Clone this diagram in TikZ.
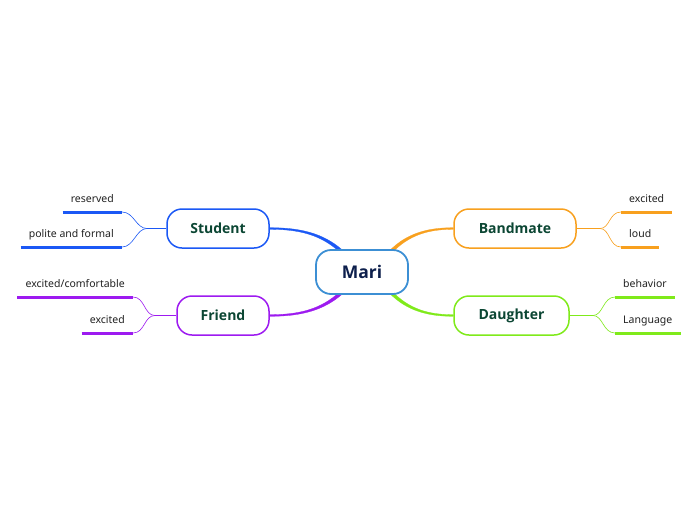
\documentclass[tikz,border=0pt]{standalone}
\usepackage{fontspec}
\setmainfont{Noto Sans}
\newfontfamily\headfont{Open Sans}
\begin{document}
\begin{tikzpicture}[x=1pt,y=-1pt,
  mainnode/.style={draw=mariblue, line width=1.8pt, fill=white, rounded corners=15pt,
    minimum width=92pt, minimum height=44pt, inner sep=0pt,
    font=\headfont\fontsize{17.5}{20}\selectfont\bfseries, text=marinavy},
  childnode/.style={line width=1.5pt, fill=white, rounded corners=15pt,
    minimum height=39pt, inner sep=0pt,
    font=\headfont\fontsize{14}{17}\selectfont\bfseries, text=childgreen},
  leafnode/.style={inner xsep=8pt, inner ysep=6pt, text height=8pt, text depth=3pt,
    font=\fontsize{10.5}{12}\selectfont, text=leaftext},
  mainlink/.style={line width=0.3pt, line join=round},
  leaflink/.style={line width=0.6pt},
  uline/.style={line width=3pt}
]
\definecolor{mariblue}{RGB}{60,143,212}
\definecolor{marinavy}{RGB}{13,31,76}
\definecolor{childgreen}{RGB}{11,70,51}
\definecolor{leaftext}{RGB}{34,34,34}
\definecolor{cblue}{RGB}{27,88,245}
\definecolor{cpurple}{RGB}{157,26,240}
\definecolor{corange}{RGB}{248,160,30}
\definecolor{cgreen}{RGB}{127,234,26}

\fill[white] (0,0) rectangle (696,520);
\useasboundingbox (0,0) rectangle (696,520);

% child nodes
\node[childnode, draw=cblue, minimum width=102pt] (student) at (218,228.5) {Student};
\node[childnode, draw=cpurple, minimum width=92pt] (friend) at (223,315.5) {Friend};
\node[childnode, draw=corange, minimum width=122pt] (bandmate) at (515,228.5) {Bandmate};
\node[childnode, draw=cgreen, minimum width=115pt] (daughter) at (511.5,315.5) {Daughter};

% invisible placeholder of the central node, for the connector anchors
\coordinate (maric) at (362,272);
\node[mainnode, draw=none, fill=none, text opacity=0] (mari) at (maric) {Mari};

% main connectors (tapered: thin at the child, thick at Mari)
\filldraw[mainlink, cblue] ([shift={(0,-0.8)}]student.east) .. controls (300,227.7) and (322.9,233) .. ([shift={(27.1,0.8)}]mari.north west)
  -- ([shift={(24.9,3.2)}]mari.north west) .. controls (321.1,235) and (300,229.3) .. ([shift={(0,0.8)}]student.east) -- cycle;
\filldraw[mainlink, cpurple] ([shift={(0,0.8)}]friend.east) .. controls (300,316.3) and (322.9,311) .. ([shift={(27.1,-0.8)}]mari.south west)
  -- ([shift={(24.9,-3.2)}]mari.south west) .. controls (321.1,309) and (300,314.7) .. ([shift={(0,-0.8)}]friend.east) -- cycle;
\filldraw[mainlink, corange] ([shift={(0,-0.8)}]bandmate.west) .. controls (428,227.7) and (407,233) .. ([shift={(-19.6,1.9)}]mari.north east)
  -- ([shift={(-17.4,4.1)}]mari.north east) .. controls (409,235) and (428,229.3) .. ([shift={(0,0.8)}]bandmate.west) -- cycle;
\filldraw[mainlink, cgreen] ([shift={(0,0.8)}]daughter.west) .. controls (428,316.3) and (407,311) .. ([shift={(-19.6,-1.9)}]mari.south east)
  -- ([shift={(-17.4,-4.1)}]mari.south east) .. controls (409,309) and (428,314.7) .. ([shift={(0,-0.8)}]daughter.west) -- cycle;

% central node, drawn over the connector ends
\node[mainnode] (marivis) at (maric) {Mari};

% leaves: Student
\node[leafnode, anchor=south east] (reserved) at (122,212) {reserved};
\node[leafnode, anchor=south east] (polite) at (122,247) {polite and formal};
\draw[uline, cblue] (reserved.south west) -- (reserved.south east);
\draw[uline, cblue] (polite.south west) -- (polite.south east);
\coordinate (sb) at (147,228.5);
\draw[leaflink, cblue] (student.west) -- (sb);
\draw[leaflink, cblue] (sb) .. controls (136,228.5) and (134,212) .. (reserved.south east);
\draw[leaflink, cblue] (sb) .. controls (136,228.5) and (134,247) .. (polite.south east);

% leaves: Friend
\node[leafnode, anchor=south east] (excomf) at (133,297) {excited/comfortable};
\node[leafnode, anchor=south east] (fexcited) at (133,333) {excited};
\draw[uline, cpurple] (excomf.south west) -- (excomf.south east);
\draw[uline, cpurple] (fexcited.south west) -- (fexcited.south east);
\coordinate (fb) at (155,315.5);
\draw[leaflink, cpurple] (friend.west) -- (fb);
\draw[leaflink, cpurple] (fb) .. controls (144,315.5) and (145,297) .. (excomf.south east);
\draw[leaflink, cpurple] (fb) .. controls (144,315.5) and (145,333) .. (fexcited.south east);

% leaves: Bandmate
\node[leafnode, anchor=south west] (bexcited) at (621,212) {excited};
\node[leafnode, anchor=south west] (loud) at (621,247) {loud};
\draw[uline, corange] (bexcited.south west) -- (bexcited.south east);
\draw[uline, corange] (loud.south west) -- (loud.south east);
\coordinate (bb) at (600,228.5);
\draw[leaflink, corange] (bandmate.east) -- (bb);
\draw[leaflink, corange] (bb) .. controls (610,228.5) and (609,212) .. (bexcited.south west);
\draw[leaflink, corange] (bb) .. controls (610,228.5) and (609,247) .. (loud.south west);

% leaves: Daughter
\node[leafnode, anchor=south west] (behavior) at (615,297) {behavior};
\node[leafnode, anchor=south west] (language) at (615,333) {Language};
\draw[uline, cgreen] (behavior.south west) -- (behavior.south east);
\draw[uline, cgreen] (language.south west) -- (language.south east);
\coordinate (db) at (593,315.5);
\draw[leaflink, cgreen] (daughter.east) -- (db);
\draw[leaflink, cgreen] (db) .. controls (603,315.5) and (603,297) .. (behavior.south west);
\draw[leaflink, cgreen] (db) .. controls (603,315.5) and (603,333) .. (language.south west);
\end{tikzpicture}
\end{document}
